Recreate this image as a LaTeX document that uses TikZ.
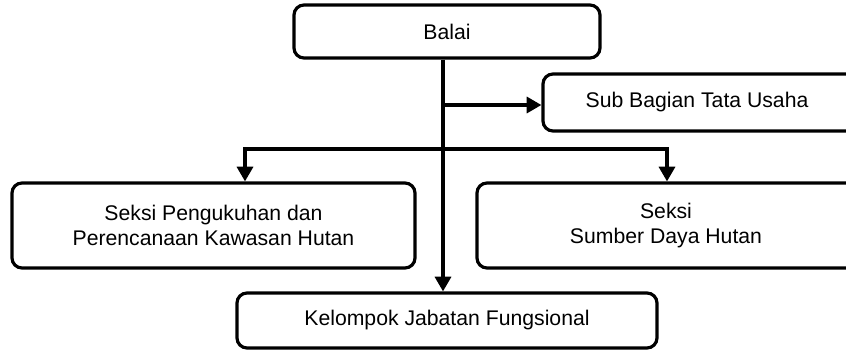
\documentclass[tikz,border=0pt]{standalone}
\usepackage{fontspec}
\setmainfont{Liberation Sans}
\usetikzlibrary{arrows.meta}
\tikzset{
	unitbox/.style={draw, line width=2.4pt, rounded corners=7.5pt, align=center,
		font=\fontsize{15.9}{18.8}\selectfont, inner sep=0pt},
	unitlabel/.style={align=center, font=\fontsize{15.9}{18.8}\selectfont},
	orgline/.style={line width=2.4pt},
	orgarrow/.style={orgline, -{Triangle[length=11pt,width=12pt]}}
}

\begin{document}
\begin{tikzpicture}[x=0.75pt, y=-0.75pt]
	\useasboundingbox (0,0) rectangle (846,350);
	\clip (0,0) rectangle (846,350);
	\node[unitbox, minimum width=316*0.75pt, minimum height=57*0.75pt] (tatausaha) at (701,102.5) {};
	\node[unitlabel] (tatausahatext) at (697,102.5) {Sub Bagian Tata Usaha};
	\node[unitbox, minimum width=306*0.75pt, minimum height=53*0.75pt] (balai) at (447,31.5) {Balai};
	\node[unitbox, minimum width=403*0.75pt, minimum height=85*0.75pt] (pengukuhan) at (213.5,225.5) {Seksi Pengukuhan dan\\Perencanaan Kawasan Hutan};
	\node[unitbox, minimum width=390*0.75pt, minimum height=85*0.75pt] (sdh) at (672,225.5) {};
	\node[unitlabel] (sdhtext) at (666,225.5) {Seksi\\Sumber Daya Hutan};
	\node[unitbox, minimum width=420*0.75pt, minimum height=55*0.75pt] (fungsional) at (447,320.5) {Kelompok Jabatan Fungsional};
	\coordinate (fork1) at (443,105);
	\coordinate (leftdrop) at (245,149);
	\coordinate (rightdrop) at (667,149);
	\draw[orgarrow] (fork1 |- balai.south) -- (fork1 |- fungsional.north);
	\draw[orgarrow] (fork1) -- (fork1 -| tatausaha.west);
	\draw[orgline, {Triangle[length=11pt,width=12pt]}-{Triangle[length=11pt,width=12pt]}]
		(leftdrop |- pengukuhan.north) -- (leftdrop) -- (rightdrop) -- (rightdrop |- sdh.north);
\end{tikzpicture}
\end{document}
